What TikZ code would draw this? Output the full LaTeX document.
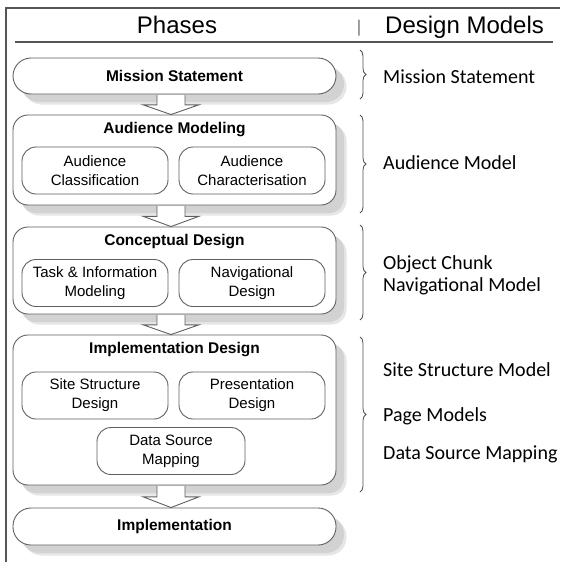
\documentclass[tikz,border=0pt]{standalone}
\usepackage{fontspec}
\setmainfont{Liberation Sans}
\newfontfamily\calibfam{Carlito}
\usetikzlibrary{decorations.pathreplacing,calc}
\definecolor{boxline}{HTML}{606060}
\definecolor{shadowgray}{HTML}{D2D2D2}
\definecolor{shadowsoft}{HTML}{E6E6E6}
\definecolor{frameline}{HTML}{555555}
\definecolor{braceline}{HTML}{505050}
\newcommand{\ttlfont}{\bfseries\fontsize{15.5}{18}\selectfont}
\newcommand{\subfnt}{\fontsize{15}{19}\selectfont}
\newcommand{\hdfont}{\fontsize{24}{28}\selectfont}
\newcommand{\mdlfont}{\calibfam\fontsize{20}{24}\selectfont}
\newcommand{\flowarrow}[2]{%
  \coordinate (#1top) at ($(#1.south)+(0,0.6)$);
  \coordinate (#2bot) at (#2.north);
  \coordinate (#1mid) at ($(#1top)!0.5!(#2bot)$);
  \path[flow] (157,0 |- #1top) -- (157,0 |- #1mid) -- (143,0 |- #1mid)
    -- (171,0 |- #2bot) -- (199,0 |- #1mid) -- (185,0 |- #1mid) -- (185,0 |- #1top);}
\begin{document}
\begin{tikzpicture}[x=1pt,y=-1pt,
  phase/.style={draw=boxline, line width=0.9pt, fill=white, rounded corners=15pt,
    inner sep=0pt, minimum width=323pt,
    preaction={draw=none, fill=shadowsoft, transform canvas={shift={(10.5pt,-10.5pt)}}},
    preaction={draw=none, fill=shadowgray, transform canvas={shift={(8pt,-8pt)}}}},
  subbox/.style={draw=boxline, line width=0.9pt, fill=white, rounded corners=14pt,
    align=center, font=\subfnt, inner sep=0pt, minimum width=146pt, minimum height=47pt},
  phasetitle/.style={font=\ttlfont, inner sep=0pt},
  model/.style={font=\mdlfont, anchor=base west, inner sep=0pt},
  flow/.style={draw=boxline, line width=0.9pt, fill=white, line join=miter},
  bracestyle/.style={draw=braceline, line width=0.8pt, decorate,
    decoration={brace, amplitude=6pt}}
]
\useasboundingbox (0,0) rectangle (560,562);
\fill[white] (0,0) rectangle (560,562);

% frame and header
\coordinate (frBL) at (6,562);
\coordinate (frTL) at (6,8);
\coordinate (frTR) at (560,8);
\draw[frameline, line width=1.5pt] (frBL) -- (frTL) -- (frTR);
\coordinate (hlL) at (15,42);
\coordinate (hlR) at (553,42);
\draw[frameline, line width=1.2pt] (hlL) -- (hlR);
\node[font=\hdfont, anchor=base, inner sep=0pt] (hphase) at (177,33) {Phases};
\node[font=\fontsize{17}{20}\selectfont, anchor=base, inner sep=0pt, text=black!55] (hbar) at (359,32) {|};
\node[font=\hdfont, anchor=base west, inner sep=0pt] (hdesign) at (385,33) {Design Models};

% phases
\node[phase, minimum height=36pt, rounded corners=18pt, font=\ttlfont] (ms) at (174.5,76) {Mission Statement};

\node[phase, minimum height=90pt] (am) at (174.5,160) {};
\node[phasetitle] (amt) at (174.5,130) {Audience Modeling};
\node[subbox] (ac) at (95,170.5) {Audience\\Classification};
\node[subbox] (ach) at (252,170.5) {Audience\\Characterisation};

\node[phase, minimum height=87pt] (cd) at (174.5,270.5) {};
\node[phasetitle] (cdt) at (174.5,242) {Conceptual Design};
\node[subbox] (tim) at (95,283) {Task \& Information\\Modeling};
\node[subbox] (nd) at (252,283) {Navigational\\Design};

\node[phase, minimum height=150pt] (id) at (174.5,410) {};
\node[phasetitle] (idt) at (174.5,350) {Implementation Design};
\node[subbox] (ssd) at (95,395.5) {Site Structure\\Design};
\node[subbox] (pd) at (252,395.5) {Presentation\\Design};
\node[subbox, minimum width=148pt] (dsm) at (171,451) {Data Source\\Mapping};

\node[phase, minimum height=37pt, rounded corners=18pt, font=\ttlfont] (im) at (174.5,526.5) {Implementation};

% flow arrows
\flowarrow{ms}{am}
\flowarrow{am}{cd}
\flowarrow{cd}{id}
\flowarrow{id}{im}

% braces
\coordinate (b1t) at (360,50);  \coordinate (b1b) at (360,99);
\coordinate (b2t) at (360,115); \coordinate (b2b) at (360,213);
\coordinate (b3t) at (360,225); \coordinate (b3b) at (360,320);
\coordinate (b4t) at (360,337); \coordinate (b4b) at (360,492);
\draw[bracestyle] (b1t) -- (b1b);
\draw[bracestyle] (b2t) -- (b2b);
\draw[bracestyle] (b3t) -- (b3b);
\draw[bracestyle] (b4t) -- (b4b);

% design models
\node[model] (mms) at (383,83.5) {Mission Statement};
\node[model] (mam) at (383,169.5) {Audience Model};
\node[model] (moc) at (383,269.5) {Object Chunk};
\node[model] (mnm) at (383,291.5) {Navigational Model};
\node[model] (mss) at (383,376.5) {Site Structure Model};
\node[model] (mpm) at (383,421.5) {Page Models};
\node[model] (mds) at (383,459.5) {Data Source Mapping};
\end{tikzpicture}
\end{document}
